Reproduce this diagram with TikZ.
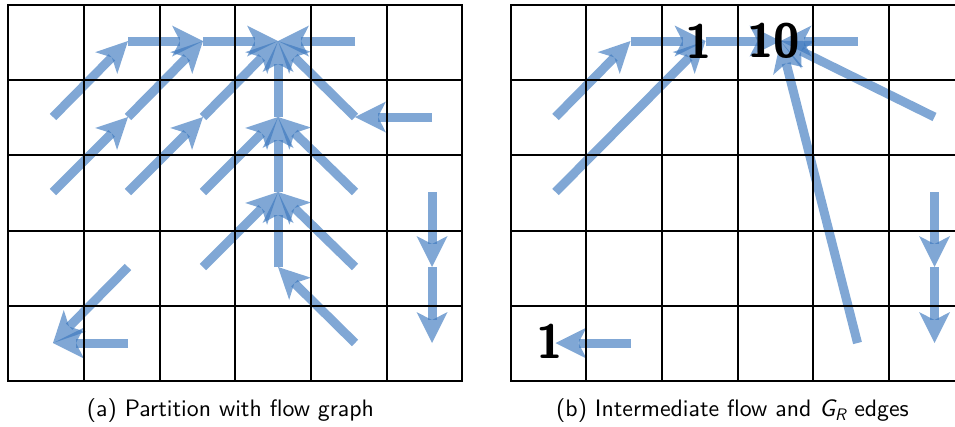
\documentclass[tikz,border=0pt]{standalone}
\usepackage{fontspec}
\newfontfamily\lblfont{lmsans10-bold.otf}
\newfontfamily\capfont{lmsans10-regular.otf}[ItalicFont=lmsans10-oblique.otf]
\usetikzlibrary{arrows.meta}
\definecolor{flowblue}{RGB}{60,120,190}
\begin{document}
\begin{tikzpicture}[x=1pt,y=-1pt,
  gridline/.style={black, line width=2pt, line cap=rect},
  flow/.style={draw=flowblue, line width=9pt, opacity=0.65,
    -{Stealth[length=31pt,width=31pt,inset=8pt,line width=0pt]}},
  lbl/.style={font=\fontsize{48}{48}\selectfont\lblfont, inner sep=0pt},
  captext/.style={font=\fontsize{23.8}{28}\selectfont\capfont, inner sep=0pt, anchor=base}]
\useasboundingbox (0,0) rectangle (955,426);
% node points
\foreach \x [count=\i from 0] in {53,128,203,278,355,432}{
  \foreach \y [count=\j from 0] in {41,117,192,267,343}{
    \coordinate (L\i\j) at (\x,\y);
    \coordinate (R\i\j) at (\x+502.5,\y);
  }
}
% left: flow graph
\draw[flow] (L01) -- (L10);
\draw[flow] (L10) -- (L20);
\draw[flow] (L20) -- (L30);
\draw[flow] (L40) -- (L30);
\draw[flow] (L11) -- (L20);
\draw[flow] (L02) -- (L11);
\draw[flow] (L12) -- (L21);
\draw[flow] (L21) -- (L30);
\draw[flow] (L31) -- (L30);
\draw[flow] (L41) -- (L30);
\draw[flow] (L51) -- (L41);
\draw[flow] (L22) -- (L31);
\draw[flow] (L32) -- (L31);
\draw[flow] (L42) -- (L31);
\draw[flow] (L23) -- (L32);
\draw[flow] (L33) -- (L32);
\draw[flow] (L43) -- (L32);
\draw[flow] (L44) -- (L33);
\draw[flow] (L13) -- (L04);
\draw[flow] (L14) -- (L04);
\draw[flow] (L52) -- (L53);
\draw[flow] (L53) -- (L54);
% right: intermediate flow and G_R edges
\draw[flow] (R01) -- (R10);
\draw[flow] (R10) -- (R20);
\draw[flow] (R20) -- (R30);
\draw[flow] (R40) -- (R30);
\draw[flow] (R02) -- (R20);
\draw[flow] (R51) -- (R30);
\draw[flow] (R44) -- (R30);
\draw[flow] (R52) -- (R53);
\draw[flow] (R53) -- (R54);
\draw[flow] (R14) -- (R04);
% grids
\foreach \ox in {8.3,510.7}{
  \foreach \i in {0,...,6} \draw[gridline] (\ox+75.67*\i,5) -- (\ox+75.67*\i,381);
  \foreach \j in {0,...,5} \draw[gridline] (\ox,5+75.2*\j) -- (\ox+454,5+75.2*\j);
}
% labels
\node[lbl] (l1) at (698.5,41) {1};
\node[lbl] (l10) at (773.5,41) {10};
\node[lbl] (l1b) at (550,341.5) {1};
% captions
\node[captext] (capa) at (230.5,416.5) {(a) Partition with flow graph};
\node[captext] (capb) at (732.5,416.5) {(b) Intermediate flow and {\itshape G\textsubscript{R}} edges};
\end{tikzpicture}
\end{document}
